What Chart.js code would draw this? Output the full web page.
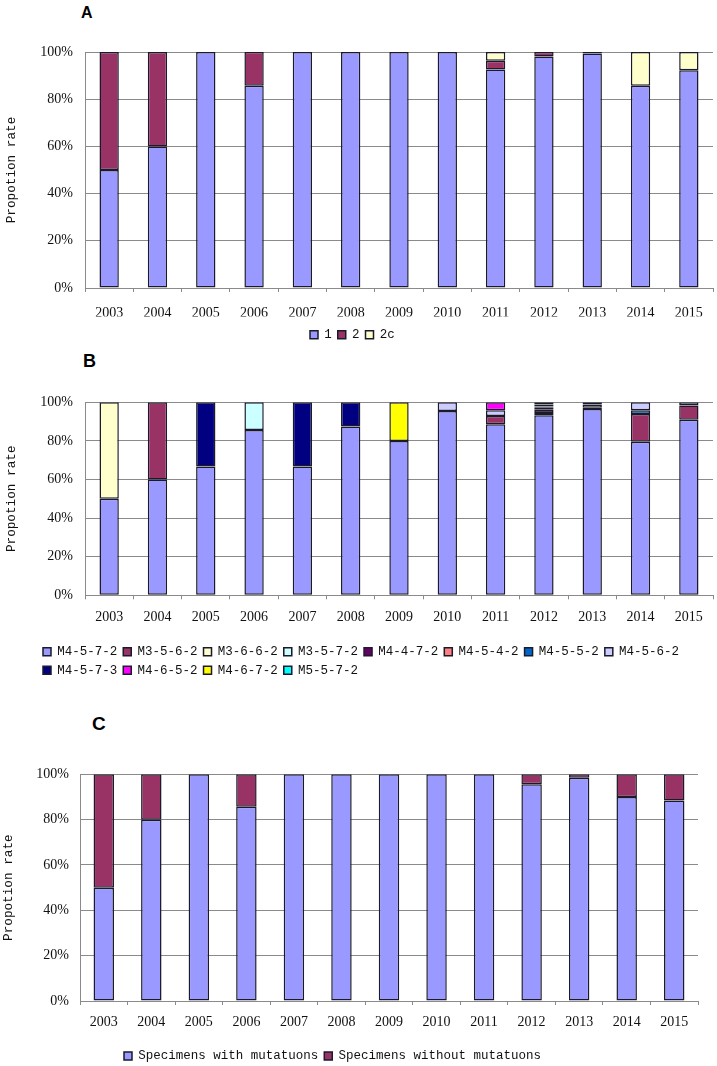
<!DOCTYPE html>
<html>
<head>
<meta charset="utf-8">
<script src="https://cdn.jsdelivr.net/npm/chart.js@4.4.1/dist/chart.umd.min.js"></script>
<style>
  body { margin: 0; background: #fff; width: 717px; height: 1066px; position: relative; overflow: hidden; }
  canvas { position: absolute; left: 0; }
  .tag { position: absolute; font-family: "Liberation Sans", Arial, sans-serif; font-weight: bold; line-height: 1; color: #000; }
</style>
</head>
<body>
<div class="tag" style="left:81px;top:5px;font-size:16px">A</div>
<div class="tag" style="left:83px;top:352px;font-size:18px">B</div>
<div class="tag" style="left:92px;top:714px;font-size:19px">C</div>
<canvas id="chartA" width="717" height="345" style="top:0"></canvas>
<canvas id="chartB" width="717" height="338" style="top:345px"></canvas>
<canvas id="chartC" width="717" height="383" style="top:683px"></canvas>
<script>
const years = ["2003", "2004", "2005", "2006", "2007", "2008", "2009", "2010", "2011", "2012", "2013", "2014", "2015"];
const yTicks = [0, 20, 40, 60, 80, 100];

// A: genotype shares (%)
const aType1  = [50, 60, 100, 85.7, 100, 100, 100, 100, 92.6, 98.1, 99.4, 85.7, 92.3];
const aType2  = [50, 40, null, 14.3, null, null, null, null, 3.7, 1.9, 0.6, null, null];
const aType2c = [null, null, null, null, null, null, null, null, 3.7, null, null, 14.3, 7.7];

// B: MLVA types (%)
const bM4572 = [50, 60, 66.7, 85.7, 66.7, 87.5, 80, 95.5, 88.6, 93.3, 96.5, 79.6, 91];
const bM3562 = [null, 40, null, null, null, null, null, null, 4.3, 1.1, null, 14.3, 7.4];
const bM3662 = [50, null, null, null, null, null, null, null, null, null, null, null, null];
const bM3572 = [null, null, null, 14.3, null, null, null, null, null, null, null, null, null];
const bM4472 = [null, null, null, null, null, null, null, null, null, 1.7, null, null, null];
const bM4542 = [null, null, null, null, null, null, null, null, null, 1.1, null, null, null];
const bM4552 = [null, null, null, null, null, null, null, null, null, 0.6, 0.7, 2.0, null];
const bM4562 = [null, null, null, null, null, null, null, 4.5, 3.0, 1.1, 1.6, 4.1, 1.6];
const bM4573 = [null, null, 33.3, null, 33.3, 12.5, null, null, null, 1.1, 1.2, null, null];
const bM4652 = [null, null, null, null, null, null, null, null, 4.1, null, null, null, null];
const bM4672 = [null, null, null, null, null, null, 20, null, null, null, null, null, null];
const bM5572 = [null, null, null, null, null, null, null, null, null, null, null, null, null];

// C: mutation status (%)
const cWith    = [50, 80, 100, 85.7, 100, 100, 100, 100, 100, 95.6, 98.5, 90, 88.4];
const cWithout = [50, 20, null, 14.3, null, null, null, null, null, 4.4, 1.5, 10, 11.6];

const SERIF = '"Liberation Serif", "Times New Roman", serif';
const MONO = '"Liberation Mono", monospace';
const GRID = "#8a8a8a";
const EDGE = "#1a1a2a";

// puts the legend where the figure has it
const legendSpot = {
  id: "legendSpot",
  beforeDraw(chart, args, o) {
    if (o.left != null) chart.legend.left = o.left;
    if (o.top != null) chart.legend.top = o.top;
  }
};

function ds(label, data, color) {
  return { label, data, backgroundColor: color, borderColor: EDGE, borderWidth: 1.5, borderSkipped: false };
}

function makePanel(id, datasets, p) {
  return new Chart(document.getElementById(id), {
    type: "bar",
    data: { labels: years, datasets },
    plugins: [legendSpot],
    options: {
      responsive: false,
      animation: false,
      devicePixelRatio: 1,
      datasets: { bar: { barPercentage: p.bar, categoryPercentage: 1 } },
      layout: { padding: { top: p.top, right: p.right, bottom: 0, left: 0 } },
      plugins: {
        tooltip: { enabled: false },
        legend: {
          position: "bottom",
          align: "start",
          labels: { font: { family: MONO, size: 12.5 }, color: "#111", boxWidth: 8, boxHeight: 8, padding: 6 }
        },
        legendSpot: { left: p.legendLeft, top: p.legendTop }
      },
      scales: {
        x: {
          stacked: true,
          grid: { drawOnChartArea: false, drawTicks: true, tickLength: 4, color: GRID, offset: true },
          border: { color: GRID, width: 1 },
          ticks: { font: { family: SERIF, size: 14 }, color: "#111", padding: p.xPad, maxRotation: 0, autoSkip: false },
          afterFit(s) { s.height = p.xH; }
        },
        y: {
          stacked: true,
          min: 0,
          max: 100,
          afterBuildTicks(s) { s.ticks = yTicks.map(v => ({ value: v })); },
          ticks: { font: { family: SERIF, size: 14 }, color: "#111", padding: p.yPad, callback: v => v + "%" },
          grid: { color: GRID, drawTicks: false },
          border: { color: GRID, width: 1 },
          title: { display: true, text: "Propotion rate", font: { family: MONO, size: 12.7 }, color: "#111", padding: { top: p.titlePad, bottom: 0 } },
          afterFit(s) { s.width = p.yW; }
        }
      }
    }
  });
}

makePanel("chartA", [
  ds("1", aType1, "#9999FF"),
  ds("2", aType2, "#993366"),
  ds("2c", aType2c, "#FFFFCC")
], { bar: 0.4, top: 52, right: 4, xH: 28.5, xPad: 13, yW: 85, yPad: 12, titlePad: 4.4, legendLeft: 304, legendTop: 322.5 });

makePanel("chartB", [
  ds("M4-5-7-2", bM4572, "#9999FF"),
  ds("M3-5-6-2", bM3562, "#993366"),
  ds("M3-6-6-2", bM3662, "#FFFFCC"),
  ds("M3-5-7-2", bM3572, "#CCFFFF"),
  ds("M4-4-7-2", bM4472, "#660066"),
  ds("M4-5-4-2", bM4542, "#FF8080"),
  ds("M4-5-5-2", bM4552, "#0066CC"),
  ds("M4-5-6-2", bM4562, "#CCCCFF"),
  ds("M4-5-7-3", bM4573, "#000080"),
  ds("M4-6-5-2", bM4652, "#FF00FF"),
  ds("M4-6-7-2", bM4672, "#FFFF00"),
  ds("M5-5-7-2", bM5572, "#00FFFF")
], { bar: 0.4, top: 57.3, right: 4, xH: 40.7, xPad: 10, yW: 85, yPad: 12, titlePad: 4.4, legendLeft: 37, legendTop: 294.5 });

makePanel("chartC", [
  ds("Specimens with mutatuons", cWith, "#9999FF"),
  ds("Specimens without mutatuons", cWithout, "#993366")
], { bar: 0.43, top: 91.3, right: 19, xH: 36.5, xPad: 9, yW: 80, yPad: 11, titlePad: 1.4, legendLeft: 118, legendTop: 360.75 });
</script>
</body>
</html>
